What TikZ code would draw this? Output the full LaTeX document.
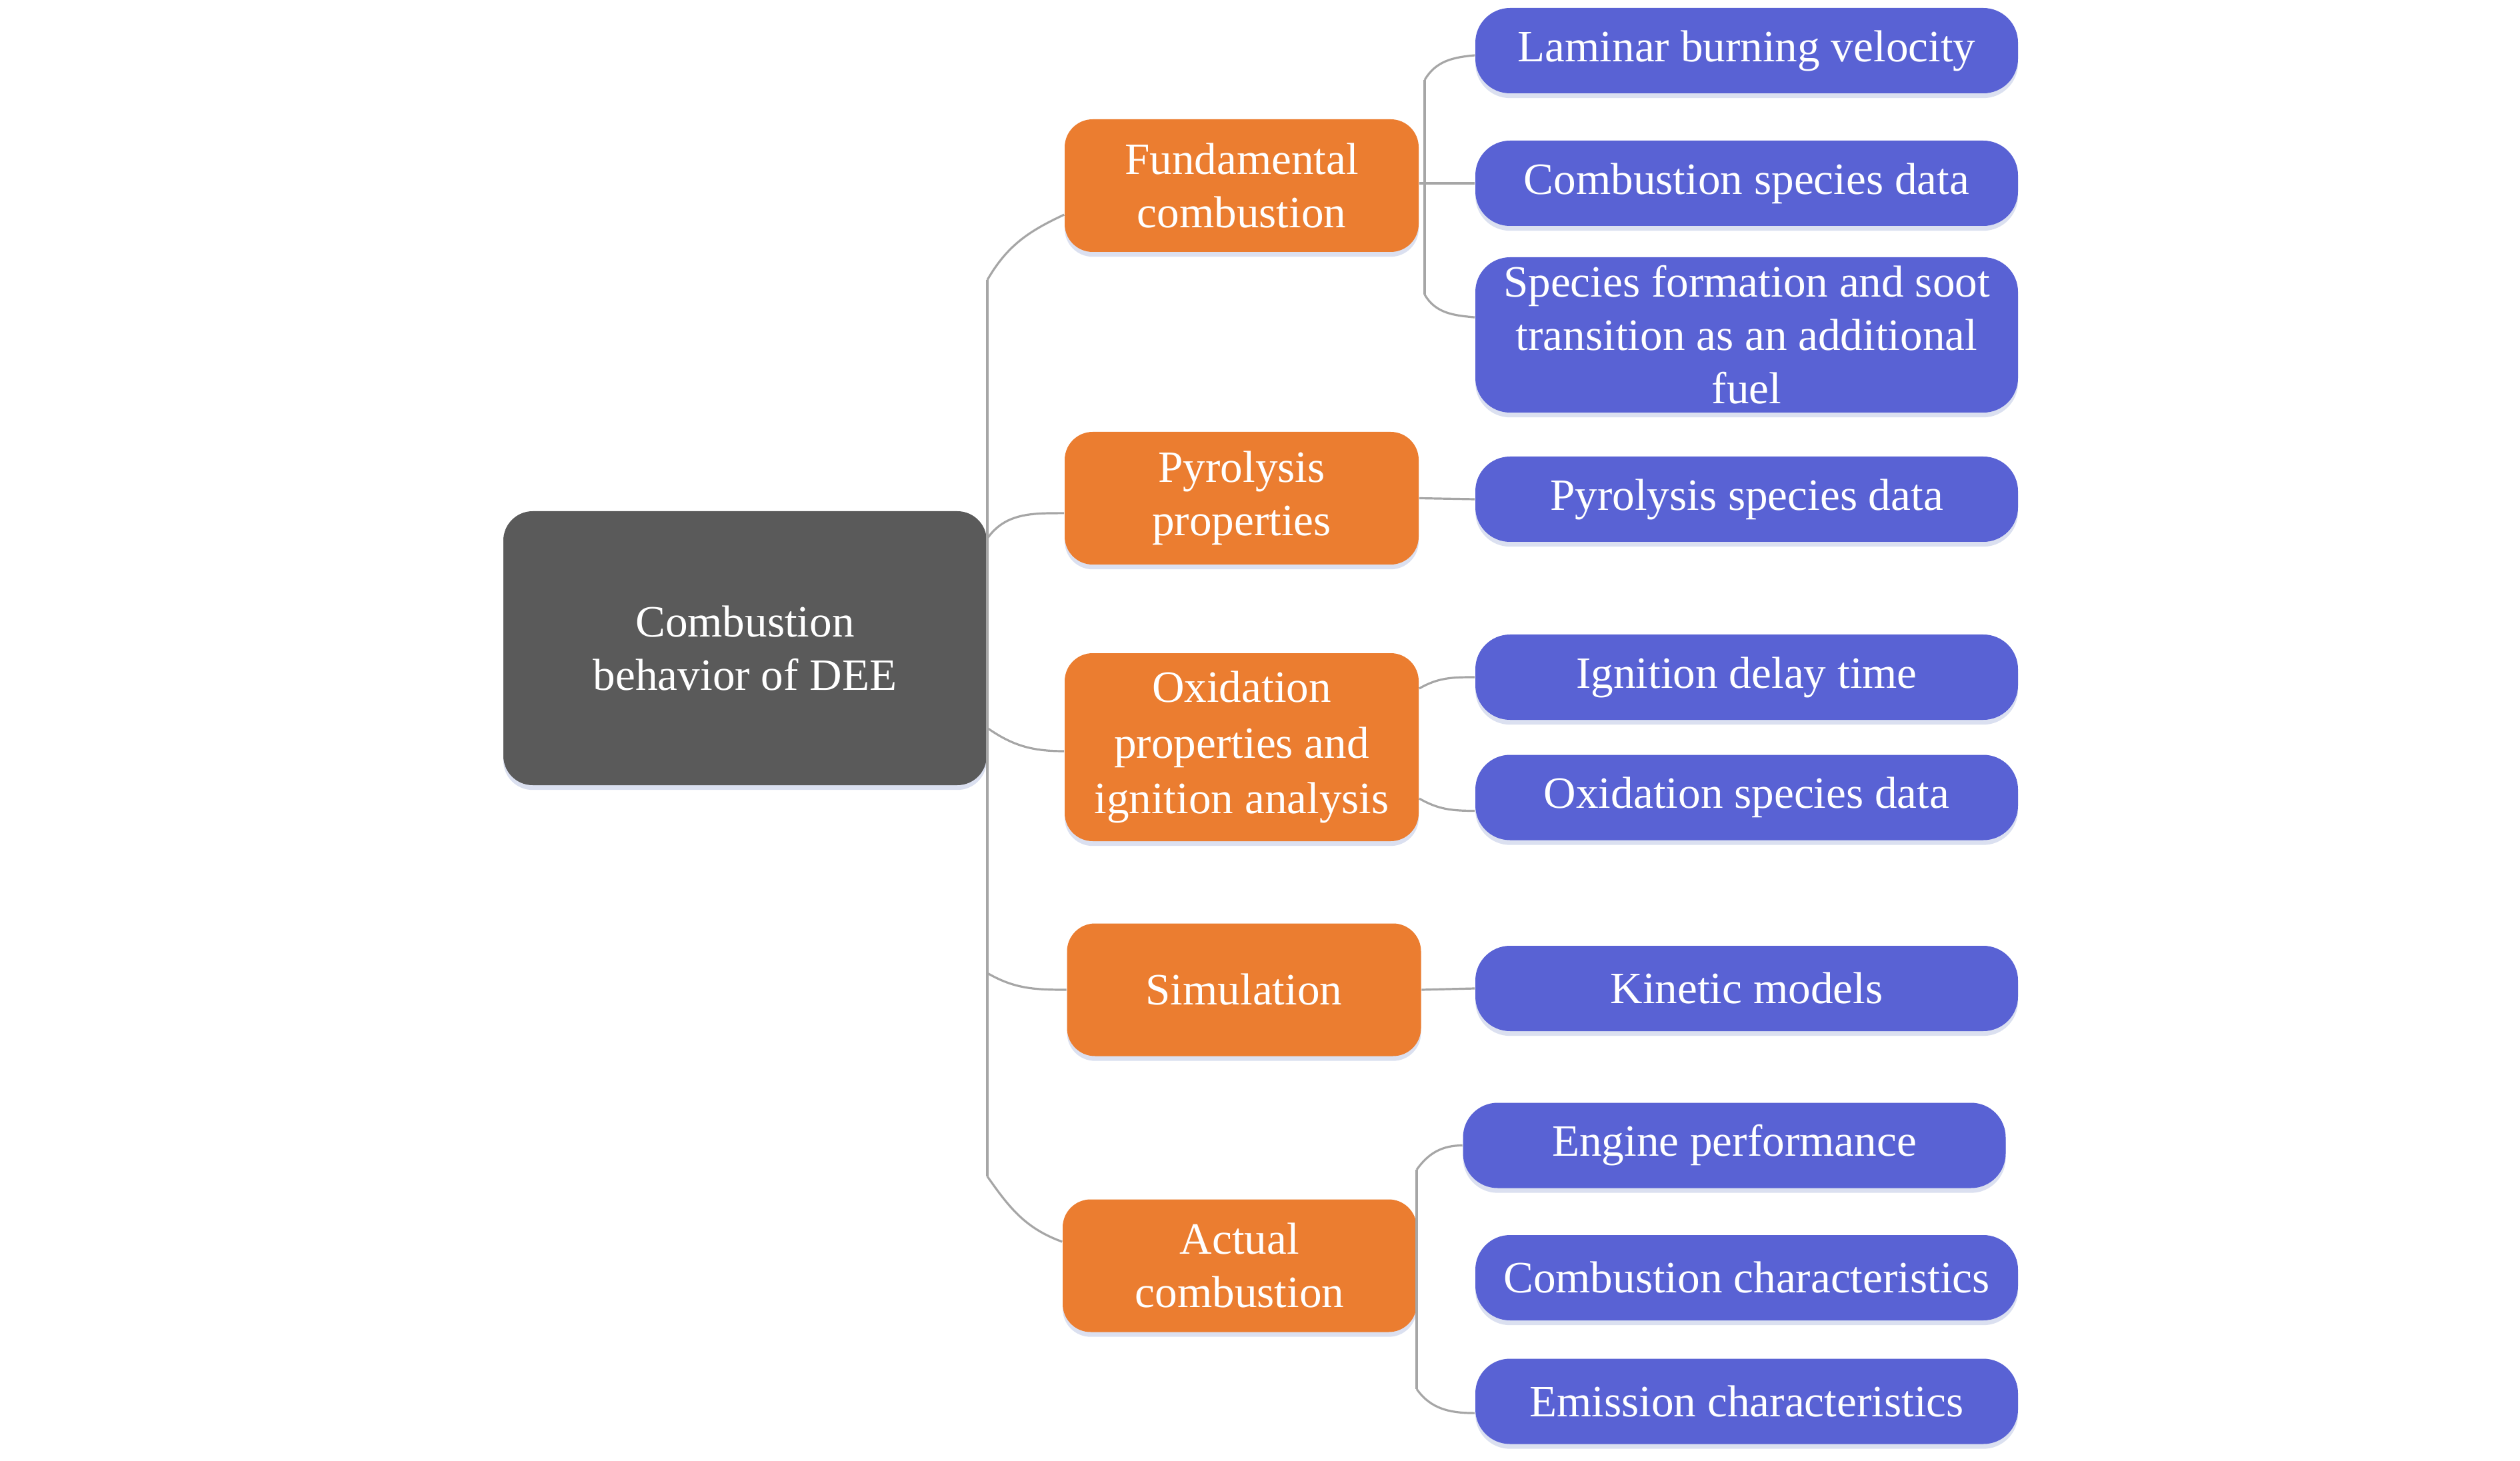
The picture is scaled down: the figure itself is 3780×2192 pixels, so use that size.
\documentclass[tikz,border=0pt]{standalone}
\usepackage{fontspec}
\setmainfont{Liberation Serif}
\usetikzlibrary{shadows}
\definecolor{rootgray}{HTML}{5A5A5A}
\definecolor{orangebox}{HTML}{EB7D30}
\definecolor{bluebox}{HTML}{5962D4}
\definecolor{linegray}{HTML}{A6A6A6}
\definecolor{shadowc}{HTML}{C3CCE6}
\begin{document}
\begin{tikzpicture}[x=0.25pt,y=0.25pt,
  every node/.style={font=\fontsize{16.8pt}{20pt}\selectfont, text=white, align=center, inner sep=0pt},
  boxshade/.style={drop shadow={shadow xshift=0pt,shadow yshift=-1.8pt,fill=shadowc,opacity=0.6}},
  rootbox/.style={boxshade, fill=rootgray, rounded corners=11pt, minimum width=181.25pt, minimum height=102.75pt},
  midbox/.style={boxshade, fill=orangebox, rounded corners=10.5pt, minimum width=132.75pt, minimum height=49.75pt},
  leafbox/.style={boxshade, fill=bluebox, rounded corners=13pt, minimum width=203.5pt, minimum height=32pt},
  conn/.style={draw=linegray, line width=0.8pt}]
\useasboundingbox (0,0) rectangle (3780,-2192);
\fill[white] (0,0) rectangle (3780,-2192);

% root
\node[rootbox] (root) at (1117.5,-972.5) {Combustion\\behavior of DEE};

% middle level
\node[midbox] (fund) at (1862.5,-278.5) {Fundamental\\combustion};
\node[midbox] (pyro) at (1862.5,-747.5) {Pyrolysis\\properties};
\node[midbox, minimum height=70.5pt, font=\fontsize{16.8pt}{20.8pt}\selectfont] (oxid) at (1862.5,-1121) {Oxidation\\properties and\\ignition analysis};
\node[midbox] (sim) at (1866,-1485) {Simulation};
\node[midbox] (act) at (1859.5,-1899) {Actual\\combustion};

% leaves
\node[leafbox] (lam) at (2620,-76) {Laminar burning velocity};
\node[leafbox] (csd) at (2620,-275) {Combustion species data};
\node[leafbox, minimum height=58.25pt] (sfs) at (2620,-502.5) {Species formation and soot\\transition as an additional\\fuel};
\node[leafbox] (psd) at (2620,-749) {Pyrolysis species data};
\node[leafbox] (idt) at (2620,-1016) {Ignition delay time};
\node[leafbox] (osd) at (2620,-1196.5) {Oxidation species data};
\node[leafbox] (kin) at (2620,-1483) {Kinetic models};
\node[leafbox] (eng) at (2601.5,-1718.5) {Engine performance};
\node[leafbox] (cch) at (2620,-1917) {Combustion characteristics};
\node[leafbox] (emi) at (2620,-2102.5) {Emission characteristics};

% root connectors
\coordinate (t1) at (1481,-420);
\coordinate (t2) at (1481,-1765);
\coordinate (t3) at (1481,-1460);
\draw[conn] (t1) -- (t2);
\draw[conn] (t1) to[out=60,in=205] ([yshift=-10.9pt]fund.west);
\draw[conn] ([yshift=41.1pt]root.east) to[out=55,in=180] ([yshift=-5.6pt]pyro.west);
\draw[conn] ([yshift=-29.9pt]root.east) to[out=-35,in=180] ([yshift=-1.5pt]oxid.west);
\draw[conn] (t3) to[out=-30,in=180] (sim.west);
\draw[conn] (t2) to[out=-55,in=160] ([yshift=9pt]act.west);

% fundamental combustion
\coordinate (f1) at (2137,-120);
\coordinate (f2) at (2137,-442);
\draw[conn] (f1) -- (f2);
\draw[conn] (f1) to[out=60,in=185] ([yshift=-1.75pt]lam.west);
\draw[conn] (fund.east |- csd.west) -- (csd.west);
\draw[conn] (f2) to[out=-60,in=175] ([yshift=6.6pt]sfs.west);

% pyrolysis
\draw[conn] (pyro.east) -- (psd.west);

% oxidation
\draw[conn] ([yshift=22pt]oxid.east) to[out=30,in=180] (idt.west);
\draw[conn] ([yshift=-19.25pt]oxid.east) to[out=-30,in=180] ([yshift=-5pt]osd.west);

% simulation
\draw[conn] (sim.east) -- (kin.west);

% actual combustion
\coordinate (a1) at (2125,-1755);
\coordinate (a2) at (2125,-2084);
\draw[conn] (a1) -- (a2);
\draw[conn] (a1) to[out=55,in=180] (eng.west);
\draw[conn] (a2) to[out=-55,in=180] ([yshift=-4.4pt]emi.west);
\end{tikzpicture}
\end{document}
